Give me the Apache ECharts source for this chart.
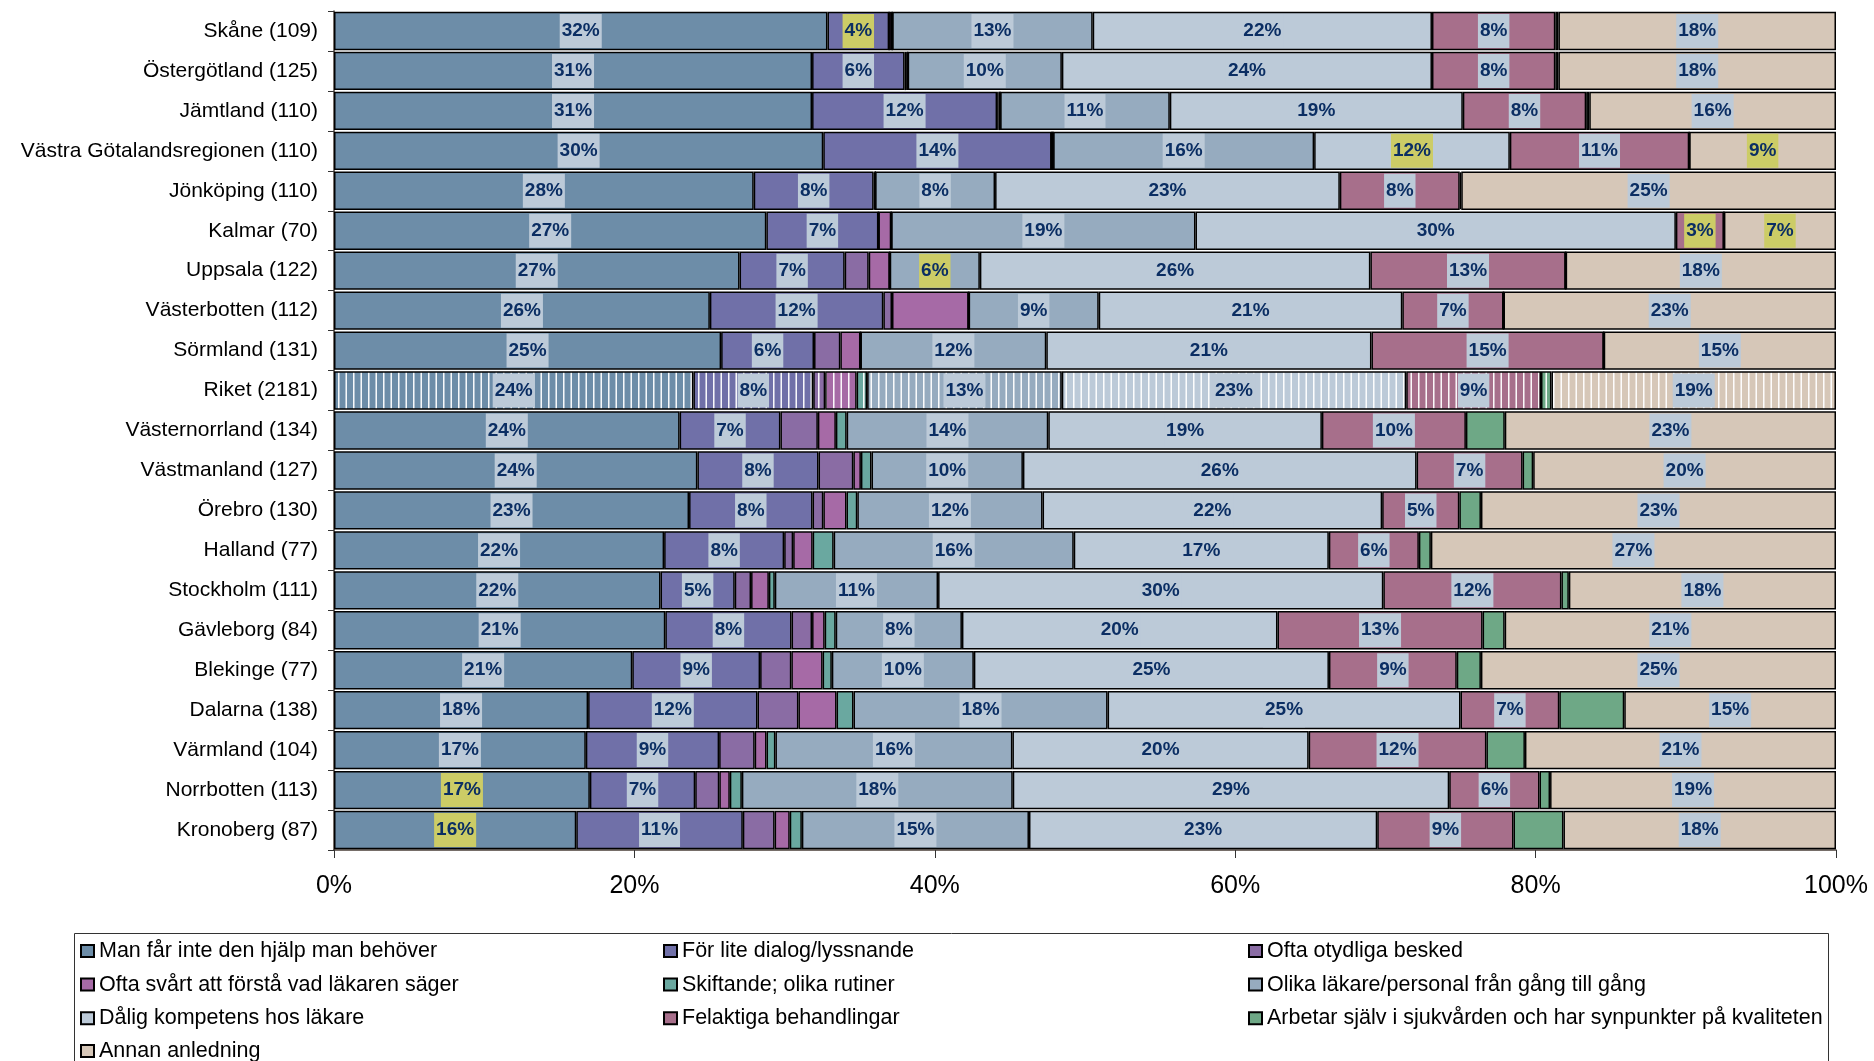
<!DOCTYPE html>
<html><head><meta charset="utf-8">
<script src="https://cdn.jsdelivr.net/npm/echarts@6/dist/echarts.min.js"></script>
<style>html,body{margin:0;padding:0;background:#fff}#c{width:1874px;height:1061px}</style>
</head><body><div id="c"></div>
<script>
const categories = ['Skåne (109)','Östergötland (125)','Jämtland (110)','Västra Götalandsregionen (110)','Jönköping (110)','Kalmar (70)','Uppsala (122)','Västerbotten (112)','Sörmland (131)','Riket (2181)','Västernorrland (134)','Västmanland (127)','Örebro (130)','Halland (77)','Stockholm (111)','Gävleborg (84)','Blekinge (77)','Dalarna (138)','Värmland (104)','Norrbotten (113)','Kronoberg (87)'];
const seriesNames = ['Man får inte den hjälp man behöver','För lite dialog/lyssnande','Ofta otydliga besked','Ofta svårt att förstå vad läkaren säger','Skiftande; olika rutiner','Olika läkare/personal från gång till gång','Dålig kompetens hos läkare','Felaktiga behandlingar','Arbetar själv i sjukvården och har synpunkter på kvaliteten','Annan anledning'];
const manFarInte   = [32,31,31,30,28,27,27,26,25,24,24,24,23,22,22,21,21,18,17,17,16];
const forLiteDialog= [4,6,12,14,8,7,7,12,6,8,7,8,8,8,5,8,9,12,9,7,11];
const oftaOtydliga = [0,0.1,0.1,0,0.1,0,1.6,0.6,1.7,0.8,2.6,2.3,0.7,0.6,1.1,1.3,2.2,2.9,2.4,1.6,2.1];
const oftaSvart    = [0.2,0.1,0.1,0.1,0,0.8,1.4,5.3,1.3,2.1,1.25,0.5,1.5,1.3,1.2,0.8,2.2,2.7,0.8,0.7,1.0];
const skiftande    = [0,0,0,0,0,0,0,0,0,0.7,0.75,0.7,0.7,1.4,0.4,0.7,0.65,1.2,0.6,0.8,0.8];
const olikaLakare  = [13,10,11,16,8,19,6,9,12,13,14,10,12,16,11,8,10,18,16,18,15];
const daligKomp    = [22,24,19,12,23,30,26,21,21,23,19,26,22,17,30,20,25,25,20,29,23];
const felaktiga    = [8,8,8,11,8,3,13,7,15,9,10,7,5,6,12,13,9,7,12,6,9];
const arbetarSjalv = [0.2,0.2,0.2,0,0.1,0,0,0,0,0.7,2.7,0.7,1.4,0.8,0.5,1.4,1.7,4.6,2.6,0.7,3.3];
const annan        = [18,18,16,9,25,7,18,23,15,19,23,20,23,27,18,21,25,15,21,19,18];
const xTicks = [0,20,40,60,80,100];
const labeledSeries = [0,1,5,6,7,9];
// [seriesIndex, rowIndex] of labels with yellow highlight
const highlighted = [[1,0],[6,3],[9,3],[7,5],[9,5],[5,6],[0,19],[0,20]];
const patternRow = 9;
const colors = ['#6d8da8','#7070a8','#8a6ca4','#a66aa6','#6aa8a0','#96abbf','#bccad8','#a76f8b','#6ea886','#d6c7b8'];
const FONT = '"Liberation Sans", Arial, sans-serif';

function stripes(color){
  const c = document.createElement('canvas'); c.width = 15; c.height = 10;
  const g = c.getContext('2d');
  g.fillStyle = color; g.fillRect(0,0,15,10);
  g.fillStyle = 'rgba(255,255,255,0.5)'; g.fillRect(0,0,1,10); g.fillRect(9,0,1,10);
  g.fillStyle = 'rgba(255,255,255,0.95)'; g.fillRect(1,0,1,10); g.fillRect(8,0,1,10);
  return c;
}
const raw = [manFarInte,forLiteDialog,oftaOtydliga,oftaSvart,skiftande,olikaLakare,daligKomp,felaktiga,arbetarSjalv,annan];
const totals = categories.map((_,i)=>raw.reduce((a,s)=>a+s[i],0));
const isHl = (si,i)=>highlighted.some(h=>h[0]===si&&h[1]===i);

const series = raw.map((vals,si)=>({
  name: seriesNames[si], type:'bar', stack:'t', barCategoryGap:'4%',
  itemStyle:{color:colors[si], borderColor:'#000', borderWidth:1.5},
  emphasis:{disabled:true},
  label:{show:labeledSeries.includes(si), position:'inside', formatter:p=>raw[si][p.dataIndex]+'%',
    fontFamily:FONT, fontWeight:'bold', fontSize:19, color:'#0b2e63', backgroundColor:'#bccad8',
    padding:[7,2,7,2], lineHeight:20},
  data: vals.map((v,i)=>{
    const item = {value: v/totals[i]*100};
    if(i===patternRow) item.itemStyle = {color:{image:stripes(colors[si]), repeat:'repeat'}};
    if(isHl(si,i)) item.label = {backgroundColor:'#cccc66'};
    return item;
  })
}));

const legendBase = {orient:'vertical', itemGap:11.6, itemWidth:13, itemHeight:12, icon:'rect',
  selectedMode:false, textStyle:{fontSize:21.5, color:'#000', fontFamily:FONT, lineHeight:20}};
const chart = echarts.init(document.getElementById('c'));
chart.setOption({
  animation:false, backgroundColor:'#fff',
  grid:{left:334, right:38, top:11, bottom:211},
  xAxis:{type:'value', min:xTicks[0], max:xTicks[xTicks.length-1], interval:20,
    axisLine:{show:true, lineStyle:{color:'#4a3f38', width:1.5}},
    axisTick:{show:true, length:8, lineStyle:{color:'#333'}},
    splitLine:{show:false},
    axisLabel:{formatter:'{value}%', fontSize:25, color:'#000', fontFamily:FONT, margin:24}},
  yAxis:{type:'category', inverse:true, data:categories,
    axisLine:{show:true, lineStyle:{color:'#4a3f38', width:1.5}},
    axisTick:{show:true, length:6, lineStyle:{color:'#333'}},
    axisLabel:{fontSize:21, color:'#000', fontFamily:FONT, margin:16}},
  legend:[
    Object.assign({left:75, top:935, data:[0,3,6].map(i=>seriesNames[i])}, legendBase),
    Object.assign({left:75, top:1035, data:[9].map(i=>seriesNames[i])}, legendBase),
    Object.assign({left:658, top:935, data:[1,4,7].map(i=>seriesNames[i])}, legendBase),
    Object.assign({left:1243, top:935, data:[2,5,8].map(i=>seriesNames[i])}, legendBase)
  ],
  graphic:[{type:'rect', left:72, top:931, shape:{width:1754, height:200}, silent:true,
    style:{fill:'none', stroke:'#333', lineWidth:1}}],
  series: series
});
</script></body></html>
